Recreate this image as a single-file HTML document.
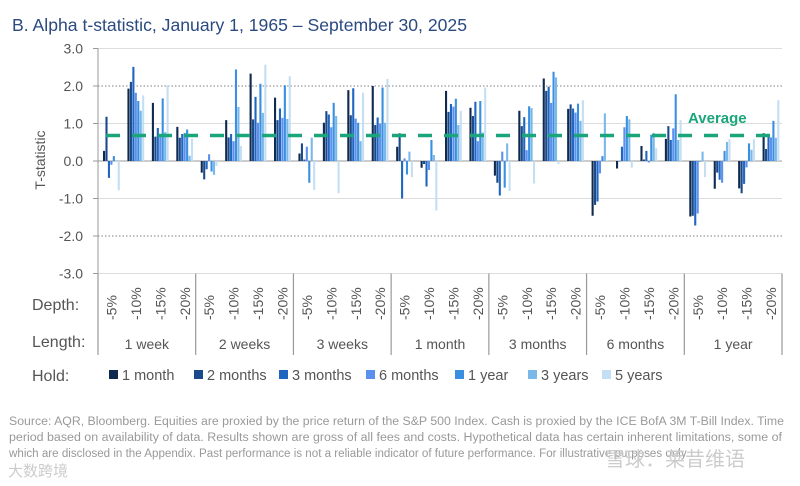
<!DOCTYPE html>
<html><head><meta charset="utf-8">
<style>
html,body{margin:0;padding:0;background:#fff;}
svg{display:block;font-family:"Liberation Sans","Noto Sans CJK SC",sans-serif;}
</style></head>
<body>
<svg id="chart" width="800" height="486" viewBox="0 0 800 486" xmlns="http://www.w3.org/2000/svg">
<rect width="800" height="486" fill="#fff"/>
<text x="12" y="31" font-size="17.5" fill="#2a4a80" textLength="455" lengthAdjust="spacingAndGlyphs">B. Alpha t-statistic, January 1, 1965 – September 30, 2025</text>
<g id="grid"></g>
<g id="bars"></g>
<g id="axes"></g>
<text transform="translate(45,160) rotate(-90)" text-anchor="middle" font-size="14" fill="#555">T-statistic</text>
<text x="32" y="310" font-size="16" fill="#555">Depth:</text>
<text x="32" y="347" font-size="16" fill="#555">Length:</text>
<text x="32" y="381" font-size="16" fill="#555">Hold:</text>
<g id="legend"></g>
<g font-size="11.5" fill="#999">
<text x="9" y="425" textLength="775" lengthAdjust="spacingAndGlyphs">Source: AQR, Bloomberg. Equities are proxied by the price return of the S&amp;P 500 Index. Cash is proxied by the ICE BofA 3M T-Bill Index. Time</text>
<text x="9" y="441" textLength="773" lengthAdjust="spacingAndGlyphs">period based on availability of data. Results shown are gross of all fees and costs. Hypothetical data has certain inherent limitations, some of</text>
<text x="9" y="457" textLength="680" lengthAdjust="spacingAndGlyphs">which are disclosed in the Appendix. Past performance is not a reliable indicator of future performance. For illustrative purposes only.</text>
</g>
<text x="8" y="476" font-size="15" fill="#ccc">大数跨境</text>
<text x="605" y="466" font-size="20" fill="#ccc">雪球：莱昔维语</text>
</svg>
<script>
const lengths = ["1 week","2 weeks","3 weeks","1 month","3 months","6 months","1 year"];
const depths = ["-5%","-10%","-15%","-20%"];
const holds = ["1 month","2 months","3 months","6 months","1 year","3 years","5 years"];
const yTicks = [3,2,1,0,-1,-2,-3];
const yTickLabels = ["3.0","2.0","1.0","0.0","-1.0","-2.0","-3.0"];
const averageValue = 0.68;
// values[length][depth] = 7 hold values
const w1 = [[0.27,1.18,-0.45,-0.1,0.13,0,-0.78],[1.93,2.11,2.51,1.82,1.6,1.34,1.75],[1.55,0.65,0.88,0.67,1.67,0.77,2.02],[0.91,0.62,0.72,0.75,0.84,0.14,0.6]];
const w2 = [[-0.31,-0.49,-0.22,0.18,-0.28,-0.37,-0.13],[1.09,0.63,0.72,0.53,2.44,1.44,0.4],[2.33,1.11,1.71,1.02,2.06,1.28,2.57],[1.69,1.09,1.4,1.15,2.02,1.12,2.26]];
const w3 = [[0.2,0.47,0.04,0.38,-0.58,0.62,-0.77],[1.02,1.33,1.24,0.9,1.55,1.2,-0.86],[1.89,1.22,1.94,1.13,1.02,0.53,1.82],[2.0,0.96,1.16,1.0,1.96,1.02,2.19]];
const m1 = [[0.38,0.74,-1.0,0.07,-0.36,0.25,-0.43],[-0.18,-0.08,-0.68,-0.24,0.56,0.16,-1.32],[1.87,1.31,1.52,1.45,1.66,0.96,1.34],[1.42,1.2,1.58,0.53,1.6,0.76,1.96]];
const m3 = [[-0.39,-0.58,-0.92,0.25,-0.71,0.47,-0.8],[1.34,0.93,1.17,0.29,1.46,1.41,-0.6],[2.2,1.87,1.98,1.55,2.38,2.23,-0.08],[1.39,1.51,1.4,1.29,1.53,1.07,1.62]];
const m6 = [[-1.46,-1.17,-1.08,-0.33,0.13,1.27,0.02],[-0.2,0.0,0.38,0.9,1.2,1.11,-0.18],[0.4,0.04,0.27,-0.04,0.7,0.75,0.34],[0.59,0.93,0.56,0.87,1.78,0.56,1.09]];
const y1 = [[-1.48,-1.46,-1.72,-1.4,-0.02,0.25,-0.43],[-0.74,-0.31,-0.5,-0.58,0.27,0.51,0.58],[-0.73,-0.86,-0.61,-0.17,0.47,0.3,0.58],[0.74,0.32,0.65,0.63,1.07,0.62,1.62]];
const values = [w1,w2,w3,m1,m3,m6,y1];
const colors = ["#0f2a4f","#1b4a8c","#1f66c0","#5b8ff0","#3a8fe0","#7ab8ea","#c4def4"];

const NS="http://www.w3.org/2000/svg";
const X0=98, X1=782, GW=(X1-X0)/lengths.length, SW=GW/4, BW=2.45;
function yS(v){return 161 - v*37.5;}
function mk(tag,attrs,parent){const e=document.createElementNS(NS,tag);for(const k in attrs)e.setAttribute(k,attrs[k]);parent.appendChild(e);return e;}
const grid=document.getElementById('grid'), bars=document.getElementById('bars'), axes=document.getElementById('axes'), legend=document.getElementById('legend');

yTicks.forEach((t,i)=>{
  const dotted=(t===2||t===-2);
  const l=mk('line',{x1:X0,x2:X1,y1:yS(t),y2:yS(t),stroke:t===0?'#999':(dotted?'#999':'#ddd'),'stroke-width':dotted?1.3:1,'stroke-dasharray':dotted?'1.5,2':'none'},grid);
  
  
  const tx=mk('text',{x:83,y:yS(t)+5,'text-anchor':'end','font-size':14,fill:'#555'},axes);
  tx.textContent=yTickLabels[i];
  
  
  const tk=mk('line',{x1:X0-5,x2:X0,y1:yS(t),y2:yS(t),stroke:'#999'},axes);
  
  
});
const ax=mk('line',{x1:X0,x2:X0,y1:yS(3),y2:yS(-3),stroke:'#999'},axes);



values.forEach((grp,g)=>{
  grp.forEach((ser,d)=>{
    const sx=X0+g*GW+5+d*SW;
    ser.forEach((v,h)=>{
      const y=yS(Math.max(v,0)), hgt=Math.abs(yS(v)-yS(0));
      const r=mk('rect',{x:(sx+h*BW).toFixed(2),y:y.toFixed(2),width:BW-0.35,height:Math.max(hgt,0.5).toFixed(2),fill:colors[h]},bars);
      
      
    });
    const dl=mk('text',{transform:`translate(${(sx+8.5+5).toFixed(1)},${320}) rotate(-90)`,'font-size':14,fill:'#555'},axes);
    dl.textContent=depths[d];
    
    
  });
  const ll=mk('text',{x:X0+g*GW+GW/2,y:349,'text-anchor':'middle','font-size':14,fill:'#555'},axes);
  ll.textContent=lengths[g];
  
  
});
for(let g=0;g<=lengths.length;g++){
  const s=mk('line',{x1:X0+g*GW,x2:X0+g*GW,y1:yS(-3),y2:355,stroke:'#999','stroke-width':1.2},axes);
  
  
}
const avg=mk('line',{x1:106,x2:X1,y1:yS(averageValue),y2:yS(averageValue),stroke:'#1aa57a','stroke-width':3.5,'stroke-dasharray':'14,12'},axes);


const at=mk('text',{x:688,y:123,'font-size':15,'font-weight':'bold',fill:'#1aa57a'},axes);
at.textContent='Average';



const legX=[109,194,279,366,455,528,602];
holds.forEach((h,i)=>{
  const r=mk('rect',{x:legX[i],y:370,width:9,height:9,fill:colors[i]},legend);
  
  
  const t=mk('text',{x:legX[i]+13,y:380,'font-size':14.5,fill:'#555'},legend);
  t.textContent=h;
  
  
});
</script>
</body></html>
